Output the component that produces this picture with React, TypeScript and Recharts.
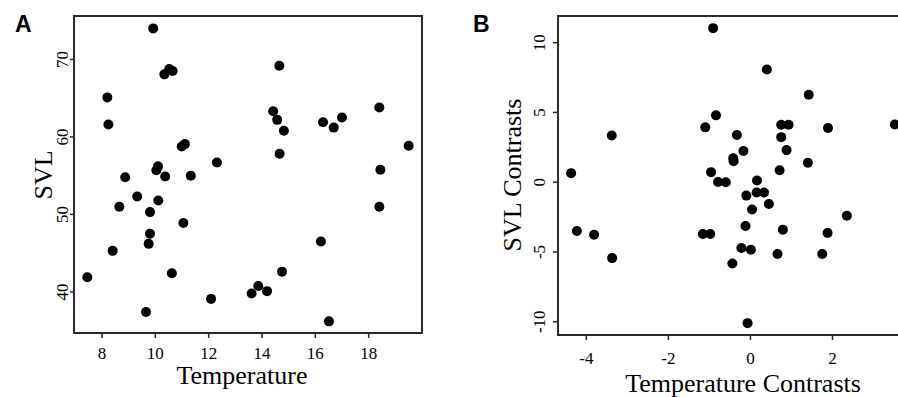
import React from "react";
import { ScatterChart, Scatter, XAxis, YAxis, ReferenceArea } from "recharts";

// panel A: raw values
const tempA = [9.92, 10.34, 10.52, 10.65, 14.65, 8.2, 8.24, 14.42, 14.57, 14.82, 16.29, 16.69, 17.0, 18.4, 19.5, 18.44, 14.66, 10.99, 11.11, 12.31, 11.33, 10.1, 10.04, 10.37, 8.87, 9.32, 10.11, 8.65, 9.8, 11.05, 9.8, 9.75, 8.4, 7.45, 10.62, 9.65, 12.09, 13.61, 13.86, 14.19, 14.75, 16.21, 16.51, 18.4];
const svlA = [74.0, 68.07, 68.75, 68.5, 69.18, 65.1, 61.6, 63.3, 62.2, 60.8, 61.9, 61.2, 62.5, 63.8, 58.85, 55.77, 57.83, 58.77, 59.07, 56.7, 55.0, 56.2, 55.7, 54.9, 54.8, 52.3, 51.8, 51.0, 50.3, 48.9, 47.5, 46.2, 45.3, 41.9, 42.4, 37.4, 39.1, 39.8, 40.77, 40.1, 42.6, 46.5, 36.2, 51.0];

// panel B: independent contrasts
const tempB = [-0.91, 0.4, 1.42, 3.52, -0.84, -1.1, -3.38, -0.33, -0.17, 0.75, 0.93, 0.75, 0.88, 1.89, -0.42, -0.41, -4.37, 1.4, 0.71, -0.96, -0.79, -0.6, 0.16, -0.1, 0.15, 0.33, 0.45, 0.04, 2.35, -0.12, -4.23, -3.81, -1.16, -0.98, 0.79, 1.88, -3.37, -0.22, 0.01, -0.44, 0.66, 1.75, -0.07];
const svlB = [11.04, 8.07, 6.27, 4.14, 4.79, 3.93, 3.35, 3.38, 2.23, 4.12, 4.12, 3.23, 2.3, 3.88, 1.72, 1.51, 0.65, 1.39, 0.86, 0.72, 0.02, 0.0, 0.12, -0.96, -0.74, -0.74, -1.56, -1.96, -2.4, -3.14, -3.5, -3.76, -3.71, -3.71, -3.4, -3.64, -5.44, -4.72, -4.84, -5.82, -5.15, -5.15, -10.1];

const xTicksA = [8, 10, 12, 14, 16, 18];
const yTicksA = [40, 50, 60, 70];
const xTicksB = [-4, -2, 0, 2];
const yTicksB = [-10, -5, 0, 5, 10];

const xDomA = [6.95, 20.0];
const yDomA = [34.7, 75.6];
const xDomB = [-4.69, 3.84];
const yDomB = [-10.95, 11.91];

const ptsA = tempA.map((x, i) => ({ x, y: svlA[i] }));
const ptsB = tempB.map((x, i) => ({ x, y: svlB[i] }));

const serif = '"Liberation Serif", "Times New Roman", serif';
const ink = "#2a2a2a";

const dot = (p: any) => <circle cx={p.cx} cy={p.cy} r={5} fill="#000" />;

const flatTick = (p: any) => (
  <text x={p.x} y={p.y + 11} textAnchor="middle" fontSize={17} fontFamily={serif} fill="#000">
    {p.payload.value}
  </text>
);

const rotTick = (p: any) => (
  <text
    x={p.x}
    y={p.y}
    transform={`rotate(-90 ${p.x} ${p.y})`}
    textAnchor="middle"
    fontSize={17}
    fontFamily={serif}
    fill="#000"
  >
    {p.payload.value}
  </text>
);

const yTitle = (text: string, x: number, cy: number) => () => (
  <text x={x} y={cy} transform={`rotate(-90 ${x} ${cy})`} textAnchor="middle" fontSize={26} fontFamily={serif} fill="#000">
    {text}
  </text>
);

const xTitle = (text: string, cx: number, y: number) => () => (
  <text x={cx} y={y} textAnchor="middle" fontSize={26} fontFamily={serif} fill="#000">
    {text}
  </text>
);

const panelLetter: React.CSSProperties = {
  position: "absolute",
  top: 11,
  fontFamily: '"Liberation Sans", Arial, sans-serif',
  fontWeight: "bold",
  fontSize: 23,
  color: "#000",
};

export default function App() {
  return (
    <div style={{ position: "absolute", left: 0, top: 0, width: 898, height: 397, overflow: "hidden", background: "#fff" }}>
      <div style={{ position: "absolute", left: 0, top: 0 }}>
        <ScatterChart width={440} height={397} margin={{ top: 16, right: 18, bottom: 0, left: 0 }}>
          <XAxis
            type="number"
            dataKey="x"
            domain={xDomA}
            ticks={xTicksA}
            allowDataOverflow
            height={64}
            axisLine={false}
            tickSize={5}
            tickMargin={10}
            tickLine={{ stroke: ink, strokeWidth: 1.5 }}
            tick={flatTick}
            label={xTitle("Temperature", 242, 384)}
          />
          <YAxis
            type="number"
            dataKey="y"
            domain={yDomA}
            ticks={yTicksA}
            allowDataOverflow
            width={74}
            axisLine={false}
            tickSize={4}
            tickMargin={2}
            tickLine={{ stroke: ink, strokeWidth: 1.5 }}
            tick={rotTick}
            label={yTitle("SVL", 52, 175)}
          />
          <ReferenceArea x1={xDomA[0]} x2={xDomA[1]} y1={yDomA[0]} y2={yDomA[1]} fill="none" stroke={ink} strokeWidth={2} ifOverflow="visible" />
          <Scatter data={ptsA} shape={dot} isAnimationActive={false} />
        </ScatterChart>
        <div style={{ ...panelLetter, left: 15 }}>A</div>
      </div>
      <div style={{ position: "absolute", left: 440, top: 0 }}>
        <ScatterChart width={480} height={397} margin={{ top: 16, right: 12, bottom: 0, left: 0 }}>
          <XAxis
            type="number"
            dataKey="x"
            domain={xDomB}
            ticks={xTicksB}
            allowDataOverflow
            height={62}
            axisLine={false}
            tickSize={5}
            tickMargin={13}
            tickLine={{ stroke: ink, strokeWidth: 1.5 }}
            tick={flatTick}
            label={xTitle("Temperature Contrasts", 303, 392)}
          />
          <YAxis
            type="number"
            dataKey="y"
            domain={yDomB}
            ticks={yTicksB}
            allowDataOverflow
            width={118}
            axisLine={false}
            tickSize={5}
            tickMargin={8}
            tickLine={{ stroke: ink, strokeWidth: 1.5 }}
            tick={rotTick}
            label={yTitle("SVL Contrasts", 81, 175)}
          />
          <ReferenceArea x1={xDomB[0]} x2={xDomB[1]} y1={yDomB[0]} y2={yDomB[1]} fill="none" stroke={ink} strokeWidth={2} ifOverflow="visible" />
          <Scatter data={ptsB} shape={dot} isAnimationActive={false} />
        </ScatterChart>
        <div style={{ ...panelLetter, left: 33 }}>B</div>
      </div>
    </div>
  );
}
